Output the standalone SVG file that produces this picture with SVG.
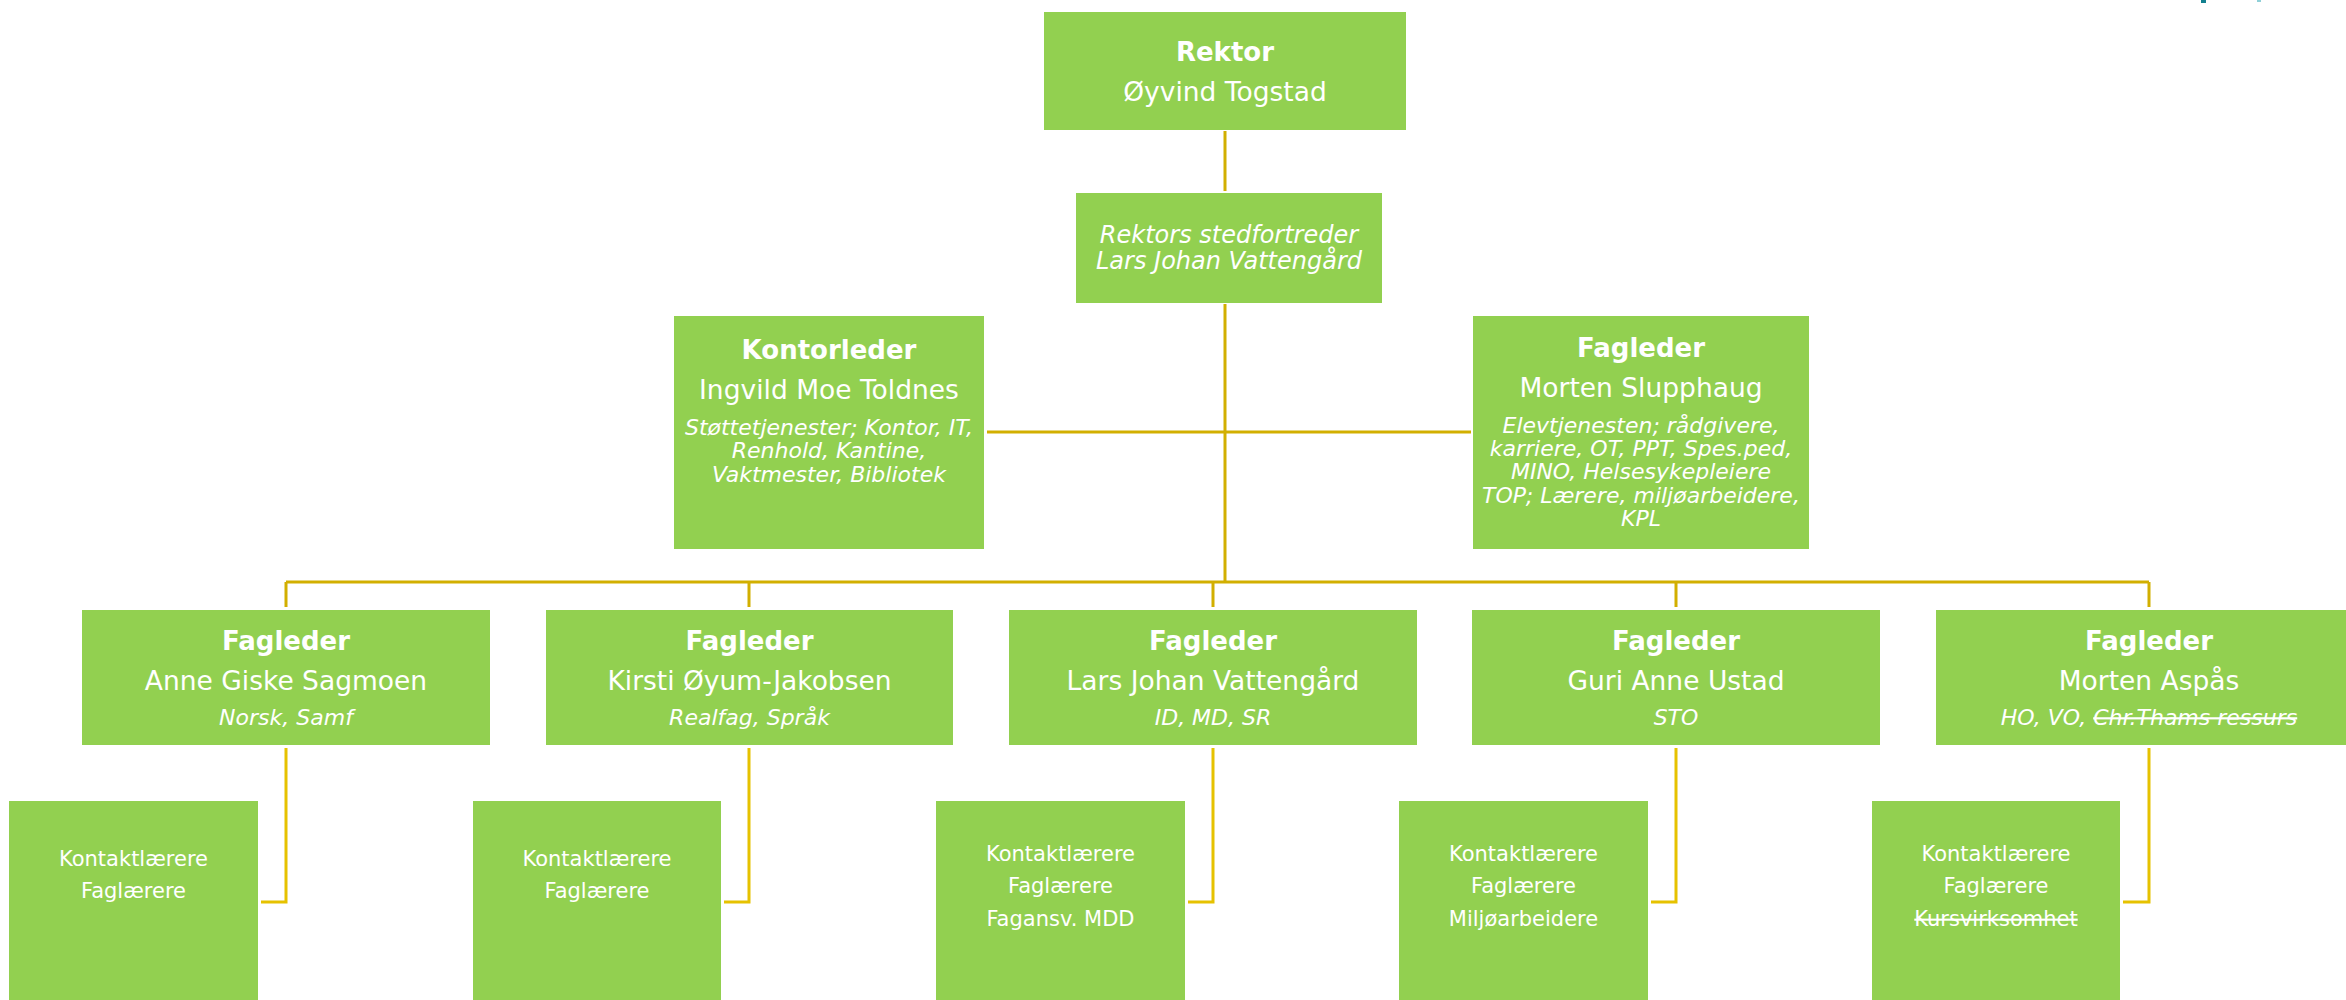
<svg xmlns="http://www.w3.org/2000/svg" width="2346" height="1000" viewBox="0 0 2346 1000">
<style>
.box{fill:#92D050}
.t{fill:#FFFFFF;font-family:"DejaVu Sans",Verdana,sans-serif;text-anchor:middle}
.b{font-weight:bold;font-size:26px}
.n{font-size:26.5px}
.i{font-style:italic;font-size:22px}
.si{font-style:italic;font-size:24px}
.s{font-size:21px}
.c{fill:none;stroke:#D2AF00;stroke-width:3}
.c2{fill:none;stroke:#E6C200;stroke-width:3}
.strike{text-decoration:line-through}
</style>
<rect width="2346" height="1000" fill="#FFFFFF"/>
<g id="logo-fragment">
<rect x="2201" y="0" width="5" height="3" fill="#13808F"/>
<rect x="2257" y="0" width="4" height="2" fill="#8FD0D8"/>
</g>
<g id="connectors">
<path class="c" d="M1225 131 V191 M1225 304 V582 M987 432 H1471 M286 582 H2149 M286 582 V607 M749 582 V607 M1213 582 V607 M1676 582 V607 M2149 582 V607"/>
<path class="c2" d="M286 748 V902 H261 M749 748 V902 H724 M1213 748 V902 H1188 M1676 748 V902 H1651 M2149 748 V902 H2123"/>
</g>
<g id="rektor">
<rect class="box" x="1044" y="12" width="362" height="118"/>
<text class="t b" x="1225" y="61">Rektor</text>
<text class="t n" x="1225" y="101">Øyvind Togstad</text>
</g>
<g id="stedfortreder">
<rect class="box" x="1076" y="193" width="306" height="110"/>
<text class="t si" x="1229" y="243">Rektors stedfortreder</text>
<text class="t si" x="1229" y="269">Lars Johan Vattengård</text>
</g>
<g id="kontorleder">
<rect class="box" x="674" y="316" width="310" height="233"/>
<text class="t b" x="829" y="359">Kontorleder</text>
<text class="t n" x="829" y="399">Ingvild Moe Toldnes</text>
<text class="t i" x="829" y="435">Støttetjenester; Kontor, IT,</text>
<text class="t i" x="829" y="458">Renhold, Kantine,</text>
<text class="t i" x="829" y="482">Vaktmester, Bibliotek</text>
</g>
<g id="fagleder-slupphaug">
<rect class="box" x="1473" y="316" width="336" height="233"/>
<text class="t b" x="1641" y="357">Fagleder</text>
<text class="t n" x="1641" y="397">Morten Slupphaug</text>
<text class="t i" x="1641" y="433">Elevtjenesten; rådgivere,</text>
<text class="t i" x="1641" y="456">karriere, OT, PPT, Spes.ped,</text>
<text class="t i" x="1641" y="479">MINO, Helsesykepleiere</text>
<text class="t i" x="1641" y="503">TOP; Lærere, miljøarbeidere,</text>
<text class="t i" x="1641" y="526">KPL</text>
</g>
<g id="fagleder-sagmoen">
<rect class="box" x="82" y="610" width="408" height="135"/>
<text class="t b" x="286" y="650">Fagleder</text>
<text class="t n" x="286" y="690">Anne Giske Sagmoen</text>
<text class="t i" x="286" y="725">Norsk, Samf</text>
</g>
<g id="fagleder-jakobsen">
<rect class="box" x="546" y="610" width="407" height="135"/>
<text class="t b" x="749.5" y="650">Fagleder</text>
<text class="t n" x="749.5" y="690">Kirsti Øyum-Jakobsen</text>
<text class="t i" x="749.5" y="725">Realfag, Språk</text>
</g>
<g id="fagleder-vattengard">
<rect class="box" x="1009" y="610" width="408" height="135"/>
<text class="t b" x="1213" y="650">Fagleder</text>
<text class="t n" x="1213" y="690">Lars Johan Vattengård</text>
<text class="t i" x="1213" y="725">ID, MD, SR</text>
</g>
<g id="fagleder-ustad">
<rect class="box" x="1472" y="610" width="408" height="135"/>
<text class="t b" x="1676" y="650">Fagleder</text>
<text class="t n" x="1676" y="690">Guri Anne Ustad</text>
<text class="t i" x="1676" y="725">STO</text>
</g>
<g id="fagleder-aspas">
<rect class="box" x="1936" y="610" width="426" height="135"/>
<text class="t b" x="2149" y="650">Fagleder</text>
<text class="t n" x="2149" y="690">Morten Aspås</text>
<text class="t i" x="2149" y="725">HO, VO, <tspan class="strike">Chr.Thams ressurs</tspan></text>
</g>
<g id="team-sagmoen">
<rect class="box" x="9" y="801" width="249" height="199"/>
<text class="t s" x="133.5" y="866">Kontaktlærere</text>
<text class="t s" x="133.5" y="898">Faglærere</text>
</g>
<g id="team-jakobsen">
<rect class="box" x="473" y="801" width="248" height="199"/>
<text class="t s" x="597" y="866">Kontaktlærere</text>
<text class="t s" x="597" y="898">Faglærere</text>
</g>
<g id="team-vattengard">
<rect class="box" x="936" y="801" width="249" height="199"/>
<text class="t s" x="1060.5" y="861">Kontaktlærere</text>
<text class="t s" x="1060.5" y="893">Faglærere</text>
<text class="t s" x="1060.5" y="926">Fagansv. MDD</text>
</g>
<g id="team-ustad">
<rect class="box" x="1399" y="801" width="249" height="199"/>
<text class="t s" x="1523.5" y="861">Kontaktlærere</text>
<text class="t s" x="1523.5" y="893">Faglærere</text>
<text class="t s" x="1523.5" y="926">Miljøarbeidere</text>
</g>
<g id="team-aspas">
<rect class="box" x="1872" y="801" width="248" height="199"/>
<text class="t s" x="1996" y="861">Kontaktlærere</text>
<text class="t s" x="1996" y="893">Faglærere</text>
<text class="t s" x="1996" y="926"><tspan class="strike">Kursvirksomhet</tspan></text>
</g>
</svg>
